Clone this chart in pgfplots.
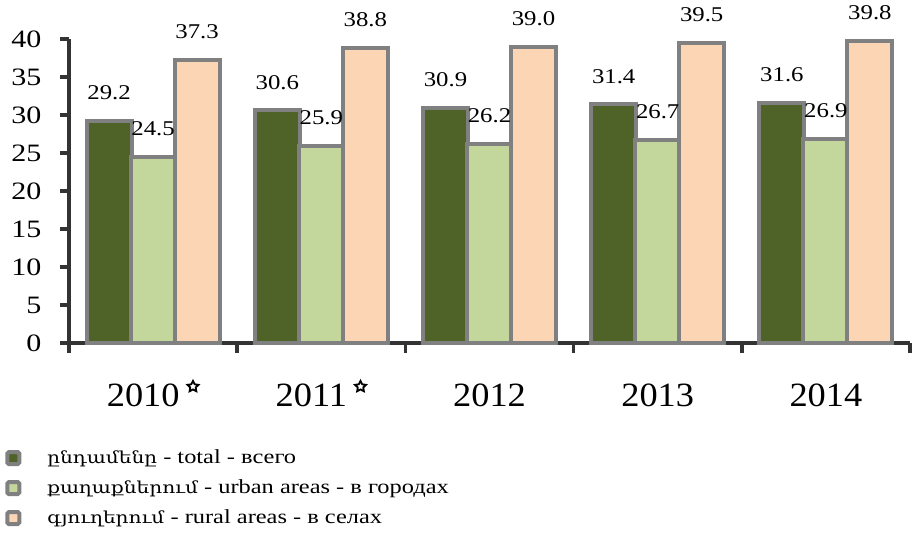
\documentclass[border=0pt]{standalone}
\usepackage{pgfplots}
\pgfplotsset{compat=1.18}
\usetikzlibrary{shapes.geometric}
\usepackage{fontspec}
\setmainfont{Liberation Serif}
\newfontfamily\armfont{DejaVu Serif}
\newcommand{\arm}[1]{{\armfont\fontsize{16.5}{16.5}\selectfont #1}}
\definecolor{dkgreen}{HTML}{4F6228}
\definecolor{ltgreen}{HTML}{C3D69B}
\definecolor{peach}{HTML}{FCD5B5}
\definecolor{bordergray}{HTML}{808080}
\definecolor{axisgray}{HTML}{333333}
\newcommand{\st}{\hspace{7pt}\raisebox{14pt}[0pt][0pt]{\tikz\node[star, star points=5, star point ratio=2.0, draw=black, line width=1.8pt, minimum size=11.5pt, inner sep=0pt]{};}}
\newcommand{\xl}[1]{\scalebox{1.07}[1]{#1}}
\newcommand{\lgd}[1]{\scalebox{1.22}[1]{#1}}
\begin{document}
\begin{tikzpicture}
\path[use as bounding box] (0,0) rectangle (912pt,540pt);
\begin{axis}[
  at={(69pt,197pt)}, anchor=south west,
  scale only axis, width=841pt, height=304pt,
  xmin=-0.5, xmax=4.5, ymin=0, ymax=40,
  clip=false,
  axis lines*=left,
  axis line style={-, line width=3.5pt, color=axisgray},
  /pgf/number format/assume math mode=true,
  ytick={0,5,...,40},
  yticklabel={\scalebox{1.2}[1]{\pgfmathprintnumber{\tick}}},
  xtick={0,1,2,3,4},
  xticklabels={\xl{2010}\st, \xl{2011}\st, \xl{2012}, \xl{2013}, \xl{2014}},
  minor xtick={-0.5,0.5,...,4.5},
  tick align=outside,
  major tick length=9pt,
  minor tick length=10pt,
  major x tick style={draw=none},
  minor x tick style={line width=3.5pt, color=axisgray},
  major y tick style={line width=3.5pt, color=axisgray},
  yticklabel style={font=\fontsize{25}{25}\selectfont, xshift=-15pt},
  xticklabel style={font=\fontsize{34}{34}\selectfont, yshift=-28pt},
  ybar, bar width=45pt,
  every axis plot/.append style={draw=bordergray, line width=4pt},
  nodes near coords={\scalebox{1.18}[1]{\pgfmathprintnumber[fixed,fixed zerofill,precision=1]{\pgfplotspointmeta}}},
  every node near coord/.append style={font=\fontsize{21}{21}\selectfont, color=black, anchor=south, inner sep=0pt, yshift=19pt},
  legend image code/.code={\draw[#1, line width=4pt, rounded corners=1.5pt] (0pt,-6pt) rectangle (12pt,6pt);},
  legend style={at={(-0.076,-0.345)}, anchor=north west, draw=none, fill=none, inner sep=0pt,
    font=\fontsize{20}{20}\selectfont, row sep=10pt, cells={anchor=west},
    nodes={inner sep=0pt, text height=15pt, text depth=5pt},
    /tikz/every odd column/.append style={column sep=26pt}},
  legend cell align=left,
]
\addplot[fill=dkgreen, bar shift=-44pt] coordinates {(0,29.2) (1,30.6) (2,30.9) (3,31.4) (4,31.6)};
\addplot[fill=ltgreen, bar shift=0pt] coordinates {(0,24.5) (1,25.9) (2,26.2) (3,26.7) (4,26.9)};
\addplot[fill=peach, bar shift=44pt] coordinates {(0,37.3) (1,38.8) (2,39.0) (3,39.5) (4,39.8)};
\legend{\lgd{\arm{ընդամենը} - total - всего}, \lgd{\arm{քաղաքներում} - urban areas - в городах}, \lgd{\arm{գյուղերում} - rural areas - в селах}}
\end{axis}
\end{tikzpicture}
\end{document}
